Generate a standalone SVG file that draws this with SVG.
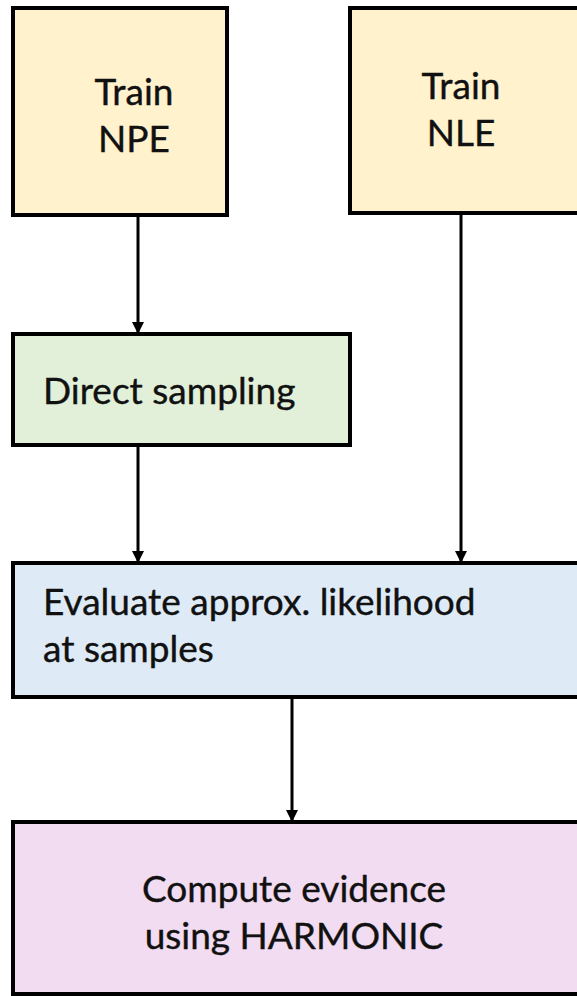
<svg xmlns="http://www.w3.org/2000/svg" width="577" height="996" viewBox="0 0 577 996">
  <style>
    .box { stroke: #000; stroke-width: 4; }
    .train { fill: #FFF2CC; }
    .direct { fill: #E2F0D9; }
    .eval { fill: #DEEBF7; }
    .comp { fill: #F2DCF2; }
    .lbl { font-family: Lato, "Liberation Sans", sans-serif; font-size: 37px; fill: #111; stroke: #111; stroke-width: 0.4; }
    .mid { text-anchor: middle; }
    .edge { stroke: #000; stroke-width: 3; fill: none; marker-end: url(#head); }
  </style>
  <defs>
    <marker id="head" viewBox="0 0 12 12" refX="12" refY="6" markerWidth="12" markerHeight="12" markerUnits="userSpaceOnUse" orient="auto">
      <path d="M0,0 L12,6 L0,12 Z" fill="#000"/>
    </marker>
  </defs>
  <rect width="577" height="996" fill="#fff"/>

  <g id="connectors">
    <line class="edge" x1="138" y1="215" x2="138" y2="334"/>
    <line class="edge" x1="138" y1="445" x2="138" y2="563"/>
    <line class="edge" x1="461" y1="213" x2="461" y2="563"/>
    <line class="edge" x1="292" y1="697" x2="292" y2="822"/>
  </g>

  <g id="train-npe">
    <rect class="box train" x="13" y="8" width="214" height="207"/>
    <text class="lbl mid" x="134" y="105">Train</text>
    <text class="lbl mid" x="134" y="152">NPE</text>
  </g>

  <g id="train-nle">
    <rect class="box train" x="350" y="8" width="240" height="205"/>
    <text class="lbl mid" x="461" y="99">Train</text>
    <text class="lbl mid" x="461" y="146">NLE</text>
  </g>

  <g id="direct-sampling">
    <rect class="box direct" x="13" y="334" width="337" height="111"/>
    <text class="lbl" x="43" y="404">Direct sampling</text>
  </g>

  <g id="evaluate-likelihood">
    <rect class="box eval" x="13" y="563" width="580" height="134"/>
    <text class="lbl" x="43" y="615">Evaluate approx. likelihood</text>
    <text class="lbl" x="43" y="662">at samples</text>
  </g>

  <g id="compute-evidence">
    <rect class="box comp" x="13" y="822" width="580" height="172"/>
    <text class="lbl mid" x="294" y="902">Compute evidence</text>
    <text class="lbl mid" x="294" y="949">using HARMONIC</text>
  </g>
</svg>
